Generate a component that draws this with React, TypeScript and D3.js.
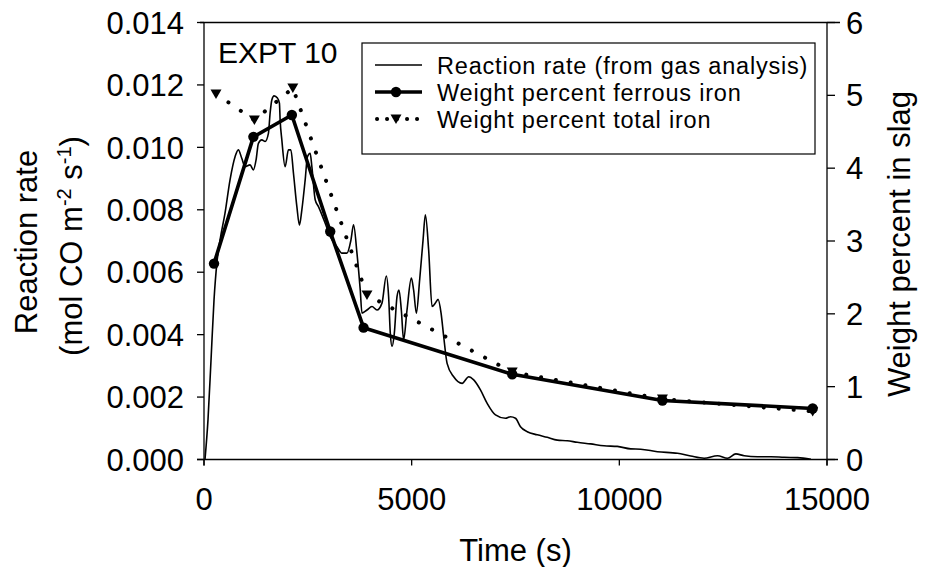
import React from 'react';
import * as d3 from 'd3';

// Reaction rate (from gas analysis): time (s) and rate (mol CO m^-2 s^-1)
const rateTime = [
  24, 96, 169, 241, 313, 386, 506, 627, 748, 827,
  909, 989, 1109, 1189, 1254, 1310, 1391, 1471, 1551, 1592,
  1633, 1688, 1768, 1816, 1833, 1874, 1953, 2033, 2091, 2154,
  2236, 2298, 2356, 2436, 2491, 2556, 2597, 2677, 2756, 2918,
  3039, 3200, 3321, 3441, 3538, 3601, 3683, 3762, 3803, 3924,
  4044, 4165, 4285, 4389, 4445, 4486, 4527, 4582, 4647, 4695,
  4751, 4806, 4888, 4992, 5047, 5113, 5192, 5274, 5330, 5409,
  5491, 5571, 5636, 5708, 5771, 5853, 6012, 6215, 6374, 6494,
  6656, 6818, 7018, 7259, 7379, 7500, 7620, 7782, 8023, 8265,
  8506, 8747, 8988, 9309, 9630, 9952, 10273, 10514, 10917, 11400,
  11720, 12041, 12364, 12605, 12805, 13006, 13328, 13649, 13970, 14293,
  14614,
];
const rateValue = [
  0, 0.00127, 0.00319, 0.00511, 0.00633, 0.00703, 0.00789, 0.00896, 0.0097, 0.00992,
  0.00965, 0.00938, 0.00944, 0.00928, 0.0096, 0.01013, 0.01024, 0.01019, 0.01045, 0.0111,
  0.01152, 0.01165, 0.01158, 0.01142, 0.01088, 0.01024, 0.00938, 0.00992, 0.00992, 0.00917,
  0.0081, 0.00751, 0.008, 0.00896, 0.0097, 0.00981, 0.00938, 0.00832, 0.0081, 0.00757,
  0.00714, 0.00682, 0.00661, 0.00661, 0.00703, 0.00752, 0.00661, 0.00543, 0.00469, 0.00479,
  0.0049, 0.00479, 0.00501, 0.00588, 0.00522, 0.00404, 0.00362, 0.00404, 0.00522, 0.00543,
  0.00479, 0.00383, 0.00479, 0.00581, 0.00543, 0.00469, 0.00575, 0.00703, 0.00784, 0.00671,
  0.0049, 0.00501, 0.00513, 0.00469, 0.00394, 0.00308, 0.00265, 0.00244, 0.00265, 0.00255,
  0.00223, 0.0018, 0.00143, 0.00132, 0.00137, 0.00132, 0.00105, 0.00089, 0.00079, 0.00071,
  0.00062, 0.0006, 0.00055, 0.0005, 0.00044, 0.00042, 0.00034, 0.00033, 0.00025, 0.0002,
  0.00011, 0.00004, 0.00012, 0.00004, 0.00018, 0.00012, 0.00009, 0.00009, 0.00007, 0.00006,
  0.00001,
];

// Weight percent ferrous iron (right axis)
const ferrousTime = [241, 1189, 2115, 3039, 3842, 7421, 11038, 14655];
const ferrousWt = [2.69, 4.43, 4.73, 3.13, 1.81, 1.17, 0.81, 0.7];

// Weight percent total iron (right axis)
const totalTime = [289, 1213, 2139, 3924, 7421, 11038, 14655];
const totalWt = [5.02, 4.66, 5.1, 2.26, 1.2, 0.83, 0.66];

const xTicks = [0, 5000, 10000, 15000];
const leftTicks = [0, 0.002, 0.004, 0.006, 0.008, 0.01, 0.012, 0.014];
const rightTicks = [0, 1, 2, 3, 4, 5, 6];
const legendLabels = [
  'Reaction rate (from gas analysis)',
  'Weight percent ferrous iron',
  'Weight percent total iron',
];
const panelLabel = 'EXPT 10';

const FONT = "'Liberation Sans', Arial, Helvetica, sans-serif";
const tri = 'M-5.5,-4.5L5.5,-4.5L0,5Z';

export default function App() {
  const W = 928;
  const H = 567;
  const x = d3.scaleLinear().domain([0, 15000]).range([204, 827]);
  const yL = d3.scaleLinear().domain([0, 0.014]).range([459.5, 22.5]);
  const yR = d3.scaleLinear().domain([0, 6]).range([459.5, 22.5]);

  const rateData = rateTime.map((t, i) => [t, rateValue[i]] as [number, number]);
  const ferrousData = ferrousTime.map((t, i) => [t, ferrousWt[i]] as [number, number]);
  const totalData = totalTime.map((t, i) => [t, totalWt[i]] as [number, number]);

  const rateLine = d3
    .line<[number, number]>()
    .x((d) => x(d[0]))
    .y((d) => yL(d[1]))
    .curve(d3.curveMonotoneX);
  const wtLine = d3
    .line<[number, number]>()
    .x((d) => x(d[0]))
    .y((d) => yR(d[1]));

  const fmtL = d3.format('.3f');
  const [x0, x1] = x.range();
  const yBot = yL(0);
  const yTop = yL(0.014);

  const legX = 362;
  const legY = 43;
  const rowBase = [74, 101, 128];

  return (
    <svg
      width={W}
      height={H}
      viewBox={`0 0 ${W} ${H}`}
      style={{ position: 'absolute', left: 0, top: 0, background: '#fff' }}
      fontFamily={FONT}
    >
      <rect x={0} y={0} width={W} height={H} fill="#fff" />

      {/* frame / axes */}
      <g stroke="#000" strokeWidth={1.3} fill="none">
        <line x1={197} x2={838} y1={yBot} y2={yBot} />
        <line x1={200} x2={840} y1={yTop} y2={yTop} />
        <line x1={x0} x2={x0} y1={yTop} y2={yBot + 6} />
        <line x1={x1} x2={x1} y1={yTop} y2={yBot + 6} />
        {xTicks.map((t) => (
          <line key={'xt' + t} x1={x(t)} x2={x(t)} y1={yBot} y2={yBot + 6} />
        ))}
        {leftTicks.map((t) => (
          <line key={'lt' + t} x1={x0 - 7} x2={x0} y1={yL(t)} y2={yL(t)} />
        ))}
        {rightTicks.map((t) => (
          <line key={'rt' + t} x1={x1} x2={x1 + 8} y1={yR(t)} y2={yR(t)} />
        ))}
      </g>

      {/* tick labels */}
      <g fontSize={31} fill="#000">
        {xTicks.map((t) => (
          <text key={'xl' + t} x={x(t)} y={510} textAnchor="middle">
            {t}
          </text>
        ))}
        {leftTicks.map((t) => (
          <text key={'ll' + t} x={184} y={yL(t)} dy="0.36em" textAnchor="end">
            {fmtL(t)}
          </text>
        ))}
        {rightTicks.map((t) => (
          <text key={'rl' + t} x={846} y={yR(t)} dy="0.36em" textAnchor="start">
            {t}
          </text>
        ))}
      </g>

      {/* axis titles */}
      <g fontSize={31} fill="#000">
        <text x={(x0 + x1) / 2} y={561} textAnchor="middle">
          Time (s)
        </text>
        <text transform="translate(37,242) rotate(-90)" textAnchor="middle">
          Reaction rate
        </text>
        <text transform="translate(82,246) rotate(-90)" textAnchor="middle">
          (mol CO m
          <tspan fontSize={20} dy={-11}>-2</tspan>
          <tspan dy={11}> s</tspan>
          <tspan fontSize={20} dy={-11}>-1</tspan>
          <tspan dy={11}>)</tspan>
        </text>
        <text transform="translate(910,244) rotate(-90)" textAnchor="middle">
          Weight percent in slag
        </text>
      </g>

      {/* panel label */}
      <text x={218} y={63} fontSize={30} fill="#000">
        {panelLabel}
      </text>

      {/* data */}
      <path d={rateLine(rateData) || ''} fill="none" stroke="#000" strokeWidth={1.6} strokeLinejoin="round" />
      <path
        d={wtLine(totalData) || ''}
        fill="none"
        stroke="#000"
        strokeWidth={4}
        strokeDasharray="0.1 14.9"
        strokeLinecap="round"
      />
      <path d={wtLine(ferrousData) || ''} fill="none" stroke="#000" strokeWidth={3.6} strokeLinejoin="round" />
      {totalData.map((d, i) => (
        <path key={'tm' + i} d={tri} transform={`translate(${x(d[0])},${yR(d[1])})`} fill="#000" />
      ))}
      {ferrousData.map((d, i) => (
        <circle key={'fm' + i} cx={x(d[0])} cy={yR(d[1])} r={5.2} fill="#000" />
      ))}

      {/* legend */}
      <rect x={legX} y={legY} width={453} height={111} fill="#fff" stroke="#000" strokeWidth={1.2} />
      <g fontSize={23.5} fill="#000" letterSpacing={0.8}>
        {legendLabels.map((l, i) => (
          <text key={'lg' + i} x={437} y={rowBase[i]}>
            {l}
          </text>
        ))}
      </g>
      <line x1={375} x2={422} y1={rowBase[0] - 9} y2={rowBase[0] - 9} stroke="#000" strokeWidth={1.6} />
      <line x1={375} x2={422} y1={rowBase[1] - 9} y2={rowBase[1] - 9} stroke="#000" strokeWidth={3.6} />
      <circle cx={396} cy={rowBase[1] - 9} r={5.2} fill="#000" />
      <line
        x1={377}
        x2={422}
        y1={rowBase[2] - 9}
        y2={rowBase[2] - 9}
        stroke="#000"
        strokeWidth={4}
        strokeDasharray="0.1 9.9"
        strokeLinecap="round"
      />
      <path d={tri} transform={`translate(396,${rowBase[2] - 9})`} fill="#000" />
    </svg>
  );
}
